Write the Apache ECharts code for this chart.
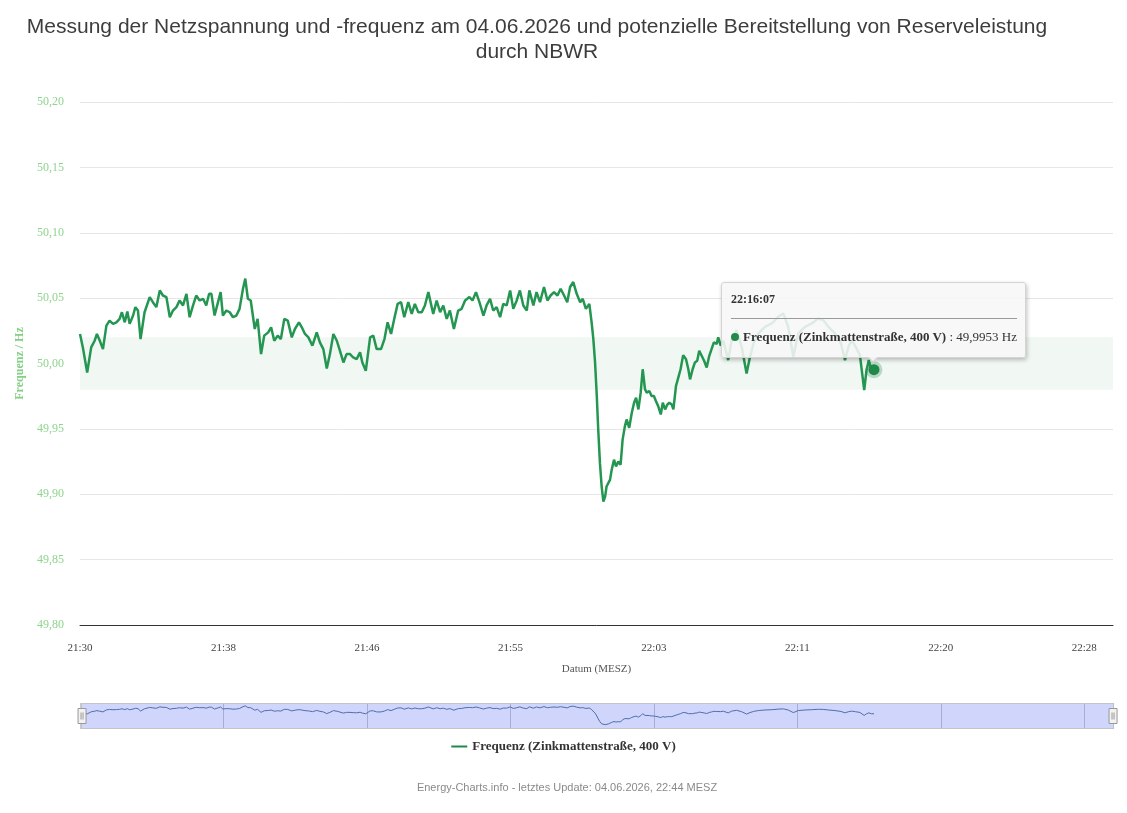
<!DOCTYPE html>
<html>
<head>
<meta charset="utf-8">
<script src="https://cdn.jsdelivr.net/npm/echarts@6/dist/echarts.min.js"></script>
<style>
html,body{margin:0;padding:0;background:#fff;}
#c{width:1127px;height:813px;}
</style>
</head>
<body>
<div id="c"></div>
<script>
// ---- data ----
const titleText = 'Messung der Netzspannung und -frequenz am 04.06.2026 und potenzielle Bereitstellung von Reserveleistung\ndurch NBWR';
const footerText = 'Energy-Charts.info - letztes Update: 04.06.2026, 22:44 MESZ';
const seriesName = 'Frequenz (Zinkmattenstraße, 400 V)';
const startClock = [21, 30, 0];          // 21:30:00 MESZ
const axisSpanSeconds = 3600;            // 21:30 - 22:30
const xTickStepSeconds = 500;
const yMin = 49.80, yMax = 50.20, yStep = 0.05;
const reserveBand = [49.98, 50.02];

// seconds after 21:30:00
const secondsAfterStart = [
  0,10,25,39,51,59,69,80,92,103,115,127,138,146,156,165,173,185,193,202,211,225,243,254,266,278,289,301,313,324,
  336,347,359,371,382,394,405,417,429,440,450,458,469,481,490,498,510,522,533,545,556,568,576,585,595,609,619,631,642,656,
  666,677,689,700,712,724,738,749,763,773,784,796,810,825,836,848,860,871,883,895,906,918,929,941,952,964,976,984,996,1011,
  1022,1034,1049,1061,1072,1084,1095,1107,1119,1130,1144,1156,1167,1179,1191,1202,1214,1231,1243,1255,1266,1278,1289,1303,1318,1330,1342,1357,1368,1380,
  1392,1406,1417,1429,1440,1452,1464,1475,1487,1499,1510,1522,1533,1545,1557,1566,1580,1591,1603,1617,1629,1640,1652,1664,1675,1687,1698,1708,1719,1731,
  1743,1752,1763,1775,1783,1789,1795,1801,1806,1812,1818,1824,1830,1835,1841,1847,1853,1861,1868,1876,1884,1891,1899,1905,1914,1923,1931,1938,1946,1954,
  1961,1969,1975,1984,1992,2000,2007,2015,2024,2031,2039,2047,2054,2062,2068,2077,2085,2093,2102,2112,2120,2126,2135,2143,2151,2158,2175,2184,2193,2201,
  2209,2219,2224,2233,2242,2259,2271,2288,2306,2323,2335,2347,2364,2387,2411,2433,2451,2468,2486,2503,2527,2550,2573,2590,2608,2631,2652,2666,2678,2689,
  2703,2718,2733,2741,2749,2758,2767
];

const frequencyHz = [
  50.0226,50.0123,49.9931,50.0123,50.0174,50.0226,50.0174,50.0110,50.0290,50.0328,50.0303,50.0315,50.0341,50.0392,50.0315,50.0397,50.0303,50.0367,50.0431,50.0405,50.0187,50.0392,50.0508,50.0469,50.0431,50.0559,50.0520,50.0508,50.0354,50.0405,
  50.0431,50.0482,50.0444,50.0533,50.0354,50.0444,50.0520,50.0482,50.0495,50.0444,50.0533,50.0533,50.0367,50.0469,50.0546,50.0367,50.0405,50.0392,50.0354,50.0367,50.0418,50.0572,50.0649,50.0495,50.0482,50.0264,50.0341,50.0072,50.0213,50.0238,
  50.0277,50.0174,50.0213,50.0187,50.0341,50.0328,50.0200,50.0264,50.0315,50.0277,50.0226,50.0200,50.0136,50.0238,50.0162,50.0110,49.9962,50.0072,50.0226,50.0174,50.0097,50.0008,50.0072,50.0072,50.0046,50.0033,50.0085,50.0008,49.9944,50.0200,
  50.0213,50.0110,50.0110,50.0187,50.0315,50.0226,50.0341,50.0456,50.0469,50.0354,50.0469,50.0379,50.0456,50.0392,50.0392,50.0444,50.0546,50.0379,50.0482,50.0392,50.0444,50.0341,50.0405,50.0264,50.0405,50.0418,50.0482,50.0508,50.0482,50.0546,
  50.0469,50.0367,50.0444,50.0495,50.0405,50.0431,50.0354,50.0456,50.0444,50.0559,50.0418,50.0482,50.0559,50.0444,50.0405,50.0559,50.0444,50.0546,50.0469,50.0585,50.0482,50.0520,50.0546,50.0520,50.0572,50.0520,50.0469,50.0585,50.0623,50.0533,
  50.0469,50.0495,50.0418,50.0456,50.0315,50.0187,50.0008,49.9751,49.9495,49.9238,49.9059,49.8944,49.8982,49.9059,49.9046,49.9110,49.9187,49.9264,49.9213,49.9251,49.9226,49.9418,49.9521,49.9572,49.9508,49.9623,49.9700,49.9738,49.9649,49.9777,
  49.9956,49.9803,49.9777,49.9790,49.9751,49.9751,49.9713,49.9674,49.9610,49.9700,49.9649,49.9687,49.9700,49.9687,49.9649,49.9828,49.9892,49.9956,50.0064,50.0033,49.9956,49.9879,49.9956,50.0008,50.0021,50.0097,50.0021,49.9969,50.0059,50.0110,
  50.0162,50.0149,50.0200,50.0136,50.0174,50.0026,50.0179,50.0255,50.0128,49.9923,50.0051,50.0153,50.0230,50.0281,50.0306,50.0357,50.0383,50.0281,50.0051,50.0230,50.0281,50.0306,50.0344,50.0332,50.0281,50.0230,50.0153,50.0026,50.0128,50.0179,
  50.0128,50.0064,49.9796,49.9949,50.0026,49.9949,49.9953
];

// ---- helpers ----
function pad(n){ return (n < 10 ? '0' : '') + n; }
function clock(sec, withSeconds){
  const total = startClock[0]*3600 + startClock[1]*60 + startClock[2] + Math.round(sec);
  const h = Math.floor(total/3600) % 24, m = Math.floor(total/60) % 60, s = total % 60;
  return pad(h) + ':' + pad(m) + (withSeconds ? ':' + pad(s) : '');
}
function deNum(v, d){ return v.toFixed(d).replace('.', ','); }

const lineColor = '#21894a';
const serif = '"Liberation Serif", "DejaVu Serif", serif';
const sans = '"Liberation Sans", Arial, sans-serif';

const seriesData = secondsAfterStart.map((t, i) => [t, frequencyHz[i]]);

const chart = echarts.init(document.getElementById('c'), null, {renderer: 'canvas'});

const option = {
  animation: false,
  backgroundColor: '#ffffff',
  title: [
    {text: titleText, left: 532, top: 10, textAlign: 'center',
     textStyle: {fontFamily: sans, fontSize: 21, fontWeight: 'normal', color: '#3d3d3d', lineHeight: 25}},
    {text: footerText, left: 562, top: 777, textAlign: 'center',
     textStyle: {fontFamily: sans, fontSize: 11, fontWeight: 'normal', color: '#8a8a8a'}}
  ],
  legend: {
    data: [seriesName], left: 'center', top: 735,
    icon: 'path://M0,0 L16,0 L16,2 L0,2 Z', itemWidth: 16, itemHeight: 2, itemGap: 6,
    textStyle: {fontFamily: serif, fontSize: 13, fontWeight: 'bold', color: '#333'}
  },
  grid: [
    {left: 80, right: 14, top: 102, bottom: 188},
    {left: 80, right: 14, top: 703, height: 26}
  ],
  tooltip: {
    trigger: 'item', triggerOn: 'none', alwaysShowContent: true, position: 'top',
    transitionDuration: 0, showDelay: 0,
    backgroundColor: 'rgba(247,247,247,0.88)', borderColor: '#d4d4d4', borderWidth: 1,
    padding: [8, 8, 12, 9],
    textStyle: {fontFamily: serif, fontSize: 12, color: '#333'},
    extraCssText: 'box-shadow: 1px 2px 4px rgba(0,0,0,0.25); border-radius: 3px; margin-top: 4px;',
    formatter: function (p) {
      const t = p.value[0], v = p.value[1];
      return '<div style="font-weight:bold;line-height:16px;">' + clock(t, true) + '</div>' +
        '<div style="border-top:1px solid #9a9a9a;margin:11px 0 10px 0;height:0;"></div>' +
        '<div style="line-height:16px;white-space:nowrap;font-size:13px;">' +
        '<span style="display:inline-block;width:8px;height:8px;border-radius:4px;background:' + lineColor + ';margin-right:4px;"></span>' +
        '<b>' + p.seriesName + '</b> : ' + deNum(v, 4) + ' Hz</div>';
    }
  },
  xAxis: [
    {type: 'value', gridIndex: 0, min: 0, max: axisSpanSeconds, interval: xTickStepSeconds,
     name: 'Datum (MESZ)', nameLocation: 'middle', nameGap: 39,
     nameTextStyle: {fontFamily: serif, fontSize: 11, color: '#555'},
     axisLine: {show: true, onZero: false, lineStyle: {color: '#333', width: 1}},
     axisTick: {show: false}, splitLine: {show: false},
     axisLabel: {margin: 18, fontFamily: serif, fontSize: 11, color: '#444', showMaxLabel: false,
                 formatter: function (v) { return clock(v, false); }}},
    {type: 'value', gridIndex: 1, min: 0, max: axisSpanSeconds, interval: xTickStepSeconds,
     axisLine: {show: false}, axisTick: {show: false}, axisLabel: {show: false},
     splitLine: {show: true, lineStyle: {color: '#c9c9c9', width: 1}}}
  ],
  yAxis: [
    {type: 'value', gridIndex: 0, min: yMin, max: yMax, interval: yStep,
     name: 'Frequenz / Hz', nameLocation: 'middle', nameGap: 48, nameRotate: 90,
     nameTextStyle: {fontFamily: serif, fontSize: 12, fontWeight: 'bold', color: '#86cf86'},
     axisLine: {show: false}, axisTick: {show: false},
     splitLine: {show: true, lineStyle: {color: '#e6e6e6', width: 1}},
     axisLabel: {margin: 16, fontFamily: serif, fontSize: 12, color: '#8fd48f',
                 formatter: function (v) { return deNum(v, 2); }}},
    {type: 'value', gridIndex: 1, show: false, min: 49.86, max: 50.09, splitLine: {show: false}}
  ],
  dataZoom: [
    {type: 'slider', xAxisIndex: 0, start: 0, end: 100,
     left: 80, right: 14, top: 703, height: 26,
     backgroundColor: 'rgba(0,0,0,0)', fillerColor: 'rgba(80,100,240,0.27)',
     borderColor: '#c4c4c4', borderRadius: 0,
     showDataShadow: false,
     handleIcon: 'path://M0,0 L8,0 L8,15 L0,15 Z M3,4 L3,11 M5,4 L5,11',
     handleSize: 15,
     handleStyle: {color: '#f2f2f2', borderColor: '#999', borderWidth: 1},
     moveHandleSize: 0, showDetail: false, brushSelect: false,
     emphasis: {handleStyle: {color: '#f2f2f2', borderColor: '#999', borderWidth: 1}}}
  ],
  series: [
    {name: seriesName, type: 'line', xAxisIndex: 0, yAxisIndex: 0, data: seriesData,
     showSymbol: false, symbol: 'circle', symbolSize: 11, smooth: false, clip: true,
     lineStyle: {color: lineColor, width: 2.5}, itemStyle: {color: lineColor},
     emphasis: {scale: false, focus: 'none', lineStyle: {width: 2.5},
                itemStyle: {color: lineColor, borderColor: 'rgba(33,137,74,0.28)', borderWidth: 6}},
     markArea: {silent: true, itemStyle: {color: '#f1f7f2'}, label: {show: false},
                data: [[{yAxis: reserveBand[0]}, {yAxis: reserveBand[1]}]]}},
    {name: 'navigator', type: 'line', xAxisIndex: 1, yAxisIndex: 1, data: seriesData,
     showSymbol: false, silent: true, tooltip: {show: false}, z: 1,
     lineStyle: {color: '#4f7392', width: 1}, emphasis: {disabled: true}}
  ]
};

chart.setOption(option);
const lastIndex = frequencyHz.length - 1;
chart.dispatchAction({type: 'highlight', seriesIndex: 0, dataIndex: lastIndex});
chart.getZr().flush();
chart.dispatchAction({type: 'showTip', seriesIndex: 0, dataIndex: lastIndex});
</script>
</body>
</html>
